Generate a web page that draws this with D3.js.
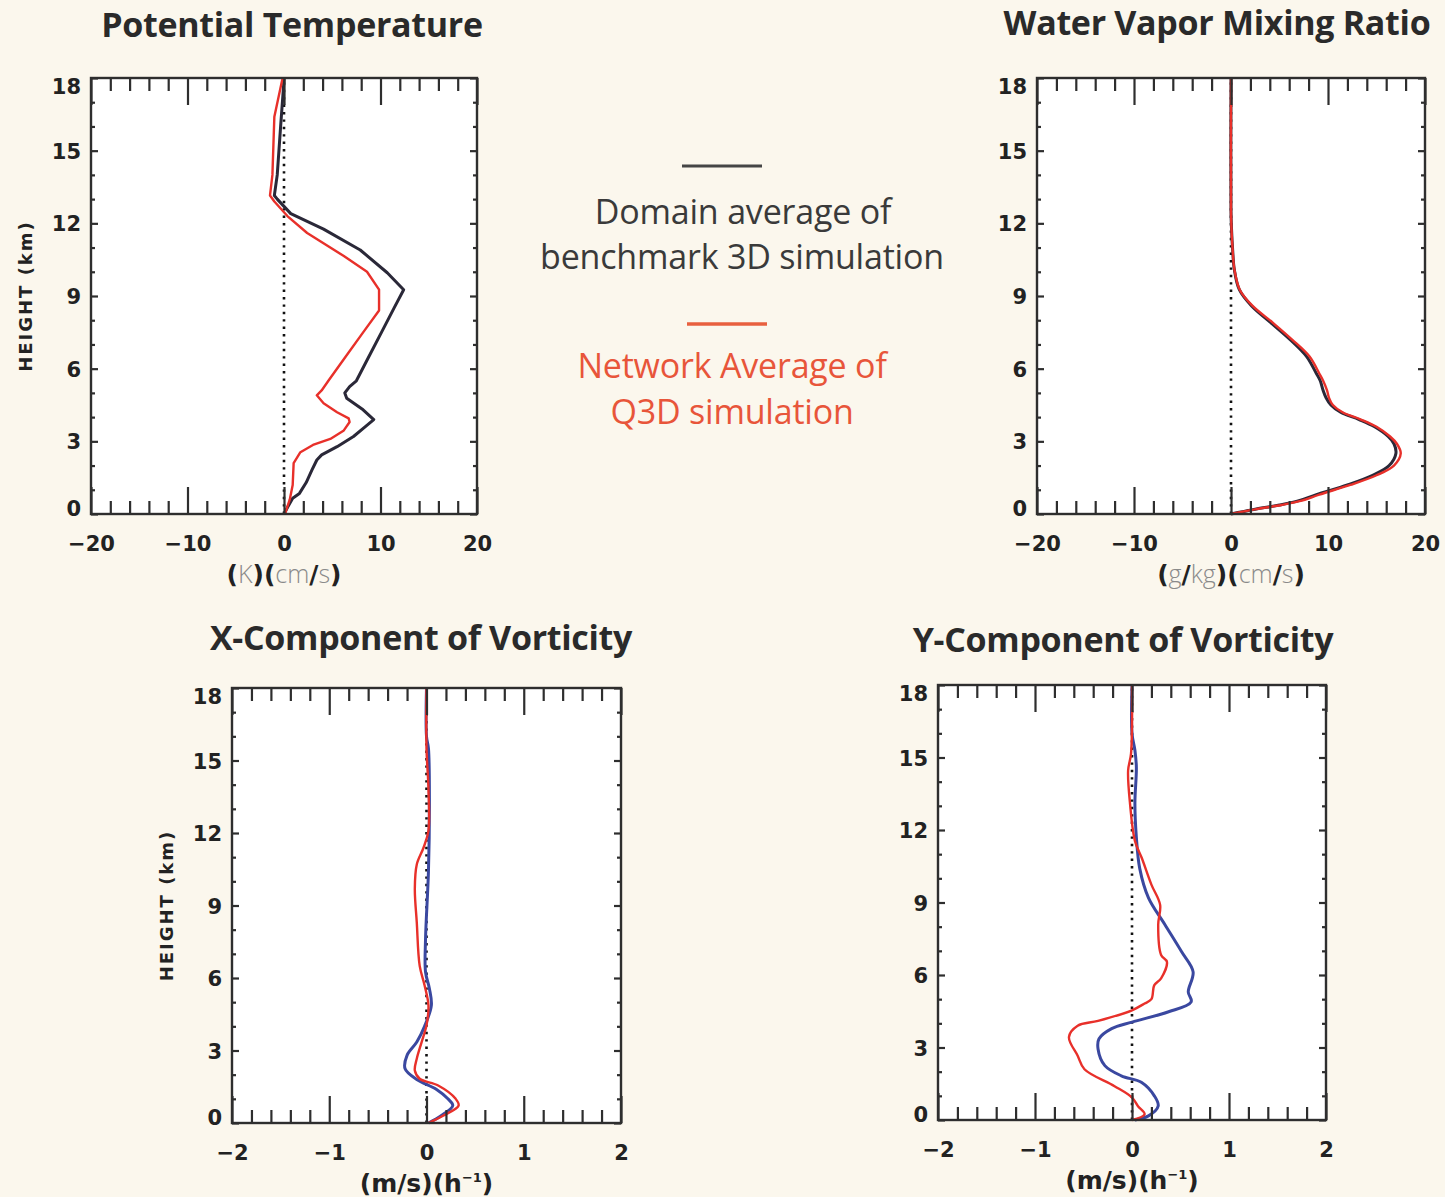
<!DOCTYPE html>
<html>
<head>
<meta charset="utf-8">
<script src="https://cdn.jsdelivr.net/npm/d3@7"></script>
<style>
  body { margin: 0; background: #fbf7ed; }
  svg { display: block; }
  .tick text { font-family: "DejaVu Sans"; font-weight: bold; font-size: 21px; fill: #222; }
</style>
</head>
<body>
<svg id="chart" width="1445" height="1197"></svg>
<script>
// ---- data (height in km, value on x axis) ----

// Potential temperature (K)(cm/s)
const thetaBenchH = [0, 0.3, 0.65, 0.85, 1.3, 1.82, 2.23, 2.44, 2.78, 3.2, 3.6, 3.9, 4.3, 4.78, 5.0, 5.26, 5.5, 6.5, 7.5, 8.5, 9.26, 9.96, 10.9, 11.76, 12.4, 13.0, 13.15, 14.0, 16.0, 17.9, 18];
const thetaBenchV = [0, 0.4, 0.9, 1.6, 2.3, 2.9, 3.4, 3.9, 5.5, 7.2, 8.4, 9.3, 8.2, 6.5, 6.3, 6.8, 7.5, 8.8, 10.1, 11.4, 12.4, 10.7, 7.9, 4.1, 0.7, -0.7, -1.0, -0.7, -0.35, 0, 0];
const thetaQ3dH = [0, 0.6, 1.2, 2.1, 2.55, 2.85, 3.1, 3.45, 3.8, 3.95, 4.2, 4.57, 4.9, 5.1, 5.5, 6.5, 7.5, 8.4, 9.26, 10.0, 10.65, 11.6, 12.3, 12.9, 13.15, 14.0, 16.4, 17.9, 18];
const thetaQ3dV = [0.1, 0.6, 0.9, 1.0, 1.7, 3.0, 4.8, 6.2, 6.8, 6.7, 5.5, 4.1, 3.4, 3.9, 4.6, 6.4, 8.2, 9.85, 9.85, 8.6, 6.2, 2.4, 0.35, -1.0, -1.45, -1.2, -1.0, -0.2, -0.1];

// Water vapor mixing ratio (g/kg)(cm/s)
const qvH = [0, 0.2, 0.37, 0.55, 0.8, 1.2, 1.6, 2.0, 2.5, 2.9, 3.2, 3.6, 3.9, 4.2, 4.5, 4.8, 5.1, 5.5, 5.8, 6.5, 7.2, 7.9, 8.6, 9.26, 10.1, 10.9, 11.8, 12.5, 18];
const qvBenchV = [0, 2.5, 5.0, 7.0, 8.8, 12.0, 14.6, 16.3, 17.0, 16.8, 16.2, 14.8, 13.2, 11.3, 10.3, 9.8, 9.5, 9.2, 8.8, 7.8, 6.1, 4.1, 2.1, 0.86, 0.34, 0.17, 0.05, 0, 0];
const qvQ3dV = [0, 2.6, 5.2, 7.3, 9.1, 12.3, 15.0, 16.8, 17.5, 17.1, 16.4, 15.0, 13.4, 11.5, 10.5, 10.1, 9.9, 9.5, 9.1, 8.1, 6.3, 4.3, 2.2, 0.9, 0.35, 0.17, 0.05, 0, 0];

// X-component of vorticity (m/s)(h^-1)
const vortXBenchH = [0, 0.3, 0.72, 1.0, 1.4, 1.8, 2.24, 2.8, 3.35, 4.0, 4.87, 5.56, 6.25, 7.6, 10.4, 13.2, 15.5, 16.0, 18];
const vortXBenchV = [0.02, 0.15, 0.27, 0.22, 0.1, -0.1, -0.22, -0.2, -0.1, -0.02, 0.05, 0.03, -0.01, -0.01, 0.02, 0.03, 0.02, 0, 0];
const vortXQ3dH = [0, 0.3, 0.72, 1.0, 1.55, 1.83, 2.17, 2.66, 3.35, 4.04, 4.87, 5.7, 6.5, 8.3, 9.7, 10.7, 11.4, 12.1, 13.85, 15.5, 18];
const vortXQ3dV = [0.02, 0.17, 0.33, 0.3, 0.12, -0.07, -0.12, -0.1, -0.05, 0, 0.02, -0.02, -0.07, -0.1, -0.12, -0.1, -0.03, 0.02, 0.02, 0, 0];

// Y-component of vorticity (m/s)(h^-1)
const vortYBenchH = [0, 0.17, 0.58, 1.0, 1.55, 1.83, 2.25, 2.94, 3.36, 3.78, 4.05, 4.47, 4.89, 5.3, 6.13, 6.97, 8.08, 9.19, 10.4, 11.7, 13.1, 14.6, 15.3, 16.0, 18];
const vortYBenchV = [0.03, 0.17, 0.27, 0.23, 0.1, -0.11, -0.28, -0.35, -0.34, -0.21, 0, 0.37, 0.61, 0.58, 0.63, 0.51, 0.34, 0.17, 0.08, 0.045, 0.03, 0.045, 0.03, 0, 0];
const vortYQ3dH = [0, 0.24, 0.58, 0.93, 1.4, 2.1, 2.66, 3.43, 3.9, 4.1, 4.54, 4.82, 5.0, 5.58, 5.86, 6.55, 6.83, 8.08, 8.9, 9.74, 10.85, 11.55, 13.07, 14.46, 15.16, 18];
const vortYQ3dV = [0, 0.13, 0.06, 0, -0.18, -0.49, -0.56, -0.65, -0.56, -0.35, 0, 0.13, 0.2, 0.23, 0.3, 0.36, 0.3, 0.27, 0.29, 0.2, 0.1, 0.03, -0.02, -0.04, -0.01, 0];

// axis ticks
const heightMajor = [0, 3, 6, 9, 12, 15, 18];
const heightMinor = d3.range(0, 19, 1).filter((d) => d % 3 !== 0);
const fluxMajor = [-20, -10, 0, 10, 20];
const fluxMinor = d3.range(-18, 19, 2).filter((d) => d % 10 !== 0);
const vortMajor = [-2, -1, 0, 1, 2];
const vortMinor = d3.range(-18, 19, 2).filter((d) => d % 10 !== 0).map((d) => d / 10);

const benchColor = "#2a2838";
const q3dColor = "#e8302a";
const blueColor = "#3a48a0";

const svg = d3.select("#chart");

const drawPanel = (p) => {
  const x = d3.scaleLinear().domain(p.xDomain).range([p.left, p.right]);
  const y = d3.scaleLinear().domain([0, 18]).range([p.bottom, p.top]);
  const g = svg.append("g");

  g.append("rect")
    .attr("x", p.left).attr("y", p.top)
    .attr("width", p.right - p.left).attr("height", p.bottom - p.top)
    .attr("fill", "#fff");

  // dotted zero line
  g.append("line")
    .attr("x1", x(0)).attr("x2", x(0))
    .attr("y1", y(0)).attr("y2", y(18))
    .attr("stroke", "#111").attr("stroke-width", 2.6)
    .attr("stroke-dasharray", "2.4 5");

  const line = d3.line()
    .x((d) => x(d[1]))
    .y((d) => y(d[0]))
    .curve(p.curve);

  p.series.forEach((s) => {
    g.append("path")
      .datum(d3.zip(s.h, s.v))
      .attr("d", line)
      .attr("fill", "none")
      .attr("stroke", s.color)
      .attr("stroke-width", s.width)
      .attr("stroke-linejoin", "round");
  });

  const styleAxis = (a) => {
    a.select(".domain").remove();
    a.selectAll("line").attr("stroke", "#2e2e2e").attr("stroke-width", 2.2);
  };

  // bottom (labelled) + top
  g.append("g").attr("transform", `translate(0,${p.bottom})`)
    .call(d3.axisBottom(x).tickValues(p.xMajor).tickSize(-27).tickPadding(22).tickFormat(d3.format("d")))
    .call(styleAxis);
  g.append("g").attr("transform", `translate(0,${p.bottom})`)
    .call(d3.axisBottom(x).tickValues(p.xMinor).tickSize(-13).tickFormat(""))
    .call(styleAxis);
  g.append("g").attr("transform", `translate(0,${p.top})`)
    .call(d3.axisTop(x).tickValues(p.xMajor).tickSize(-27).tickFormat(""))
    .call(styleAxis);
  g.append("g").attr("transform", `translate(0,${p.top})`)
    .call(d3.axisTop(x).tickValues(p.xMinor).tickSize(-13).tickFormat(""))
    .call(styleAxis);

  // left (labelled) + right
  const yAxis = g.append("g").attr("transform", `translate(${p.left},0)`)
    .call(d3.axisLeft(y).tickValues(heightMajor).tickSize(-7).tickPadding(10))
    .call(styleAxis);
  yAxis.selectAll(".tick text")
    .attr("dy", (d) => d === 18 ? "0.75em" : d === 0 ? "0.05em" : "0.36em");
  g.append("g").attr("transform", `translate(${p.left},0)`)
    .call(d3.axisLeft(y).tickValues(heightMinor).tickSize(-4).tickFormat(""))
    .call(styleAxis);
  g.append("g").attr("transform", `translate(${p.right},0)`)
    .call(d3.axisRight(y).tickValues(heightMajor).tickSize(-7).tickFormat(""))
    .call(styleAxis);
  g.append("g").attr("transform", `translate(${p.right},0)`)
    .call(d3.axisRight(y).tickValues(heightMinor).tickSize(-4).tickFormat(""))
    .call(styleAxis);

  g.append("rect")
    .attr("x", p.left).attr("y", p.top)
    .attr("width", p.right - p.left).attr("height", p.bottom - p.top)
    .attr("fill", "none").attr("stroke", "#2e2e2e").attr("stroke-width", 2.4);

  // title
  svg.append("text")
    .attr("x", p.titleX).attr("y", p.titleY)
    .attr("text-anchor", "middle")
    .style("font-family", "Open Sans").style("font-weight", 700)
    .style("font-size", "34px").style("letter-spacing", "-0.3px")
    .attr("fill", "#2a2a2a")
    .text(p.title);

  // unit label
  const unit = svg.append("text")
    .attr("x", (p.left + p.right) / 2).attr("y", p.bottom + 69)
    .attr("text-anchor", "middle")
    .style("font-size", "25px");
  p.unit.forEach(([t, kind]) => {
    const ts = unit.append("tspan").text(t);
    if (kind === "g") {
      ts.style("font-family", "Open Sans").style("font-weight", 300).attr("fill", "#8a8a8a");
    } else if (kind === "sup") {
      ts.style("font-family", "DejaVu Sans").style("font-weight", "bold")
        .style("font-size", "13px").attr("dy", -10).attr("fill", "#222");
    } else if (kind === "after") {
      ts.style("font-family", "DejaVu Sans").style("font-weight", "bold")
        .attr("dy", 10).attr("fill", "#222");
    } else {
      ts.style("font-family", "DejaVu Sans").style("font-weight", "bold").attr("fill", "#222");
    }
  });

  if (p.yTitle) {
    svg.append("text")
      .attr("transform", `translate(${p.left - 66},${(p.top + p.bottom) / 2}) rotate(-90)`)
      .attr("text-anchor", "middle").attr("dominant-baseline", "central")
      .style("font-family", "DejaVu Sans").style("font-weight", "bold")
      .style("font-size", "18px").style("letter-spacing", "2px")
      .attr("fill", "#222")
      .text("HEIGHT  (km)");
  }
};

const fluxUnitT = [["(", "b"], ["K", "g"], [")(", "b"], ["cm", "g"], ["/", "b"], ["s", "g"], [")", "b"]];
const fluxUnitQ = [["(", "b"], ["g", "g"], ["/", "b"], ["kg", "g"], [")(", "b"], ["cm", "g"], ["/", "b"], ["s", "g"], [")", "b"]];
const vortUnit = [["(m/s)(h", "b"], ["\u22121", "sup"], [")", "after"]];

drawPanel({
  left: 91, right: 477, top: 78, bottom: 514,
  xDomain: [-20, 20], xMajor: fluxMajor, xMinor: fluxMinor,
  curve: d3.curveLinear,
  series: [
    {h: thetaBenchH, v: thetaBenchV, color: benchColor, width: 3},
    {h: thetaQ3dH, v: thetaQ3dV, color: q3dColor, width: 2.4}
  ],
  title: "Potential Temperature", titleX: 292, titleY: 37,
  unit: fluxUnitT, yTitle: true
});

drawPanel({
  left: 1037, right: 1425, top: 78, bottom: 514,
  xDomain: [-20, 20], xMajor: fluxMajor, xMinor: fluxMinor,
  curve: d3.curveCatmullRom,
  series: [
    {h: qvH, v: qvBenchV, color: benchColor, width: 3},
    {h: qvH, v: qvQ3dV, color: q3dColor, width: 2.4}
  ],
  title: "Water Vapor Mixing Ratio", titleX: 1217, titleY: 35,
  unit: fluxUnitQ, yTitle: false
});

drawPanel({
  left: 232, right: 621, top: 688, bottom: 1123,
  xDomain: [-2, 2], xMajor: vortMajor, xMinor: vortMinor,
  curve: d3.curveCatmullRom,
  series: [
    {h: vortXBenchH, v: vortXBenchV, color: blueColor, width: 3},
    {h: vortXQ3dH, v: vortXQ3dV, color: q3dColor, width: 2.4}
  ],
  title: "X-Component of Vorticity", titleX: 421, titleY: 650,
  unit: vortUnit, yTitle: true
});

drawPanel({
  left: 938, right: 1326, top: 685, bottom: 1120,
  xDomain: [-2, 2], xMajor: vortMajor, xMinor: vortMinor,
  curve: d3.curveCatmullRom,
  series: [
    {h: vortYBenchH, v: vortYBenchV, color: blueColor, width: 3},
    {h: vortYQ3dH, v: vortYQ3dV, color: q3dColor, width: 2.4}
  ],
  title: "Y-Component of Vorticity", titleX: 1123, titleY: 652,
  unit: vortUnit, yTitle: false
});

// legend
const legend = svg.append("g")
  .style("font-family", "Open Sans").style("font-size", "34px")
  .style("letter-spacing", "-0.2px")
  .attr("text-anchor", "middle");
legend.append("line").attr("x1", 682).attr("x2", 762).attr("y1", 166).attr("y2", 166)
  .attr("stroke", "#454545").attr("stroke-width", 3);
legend.append("text").attr("x", 743).attr("y", 224).attr("fill", "#3a3a3a").text("Domain average of");
legend.append("text").attr("x", 742).attr("y", 269).attr("fill", "#3a3a3a").text("benchmark 3D simulation");
legend.append("line").attr("x1", 687).attr("x2", 767).attr("y1", 324).attr("y2", 324)
  .attr("stroke", "#e8603f").attr("stroke-width", 3.5);
legend.append("text").attr("x", 732).attr("y", 378).attr("fill", "#e8553a").text("Network Average of");
legend.append("text").attr("x", 732).attr("y", 424).attr("fill", "#e8553a").text("Q3D simulation");
</script>
</body>
</html>
